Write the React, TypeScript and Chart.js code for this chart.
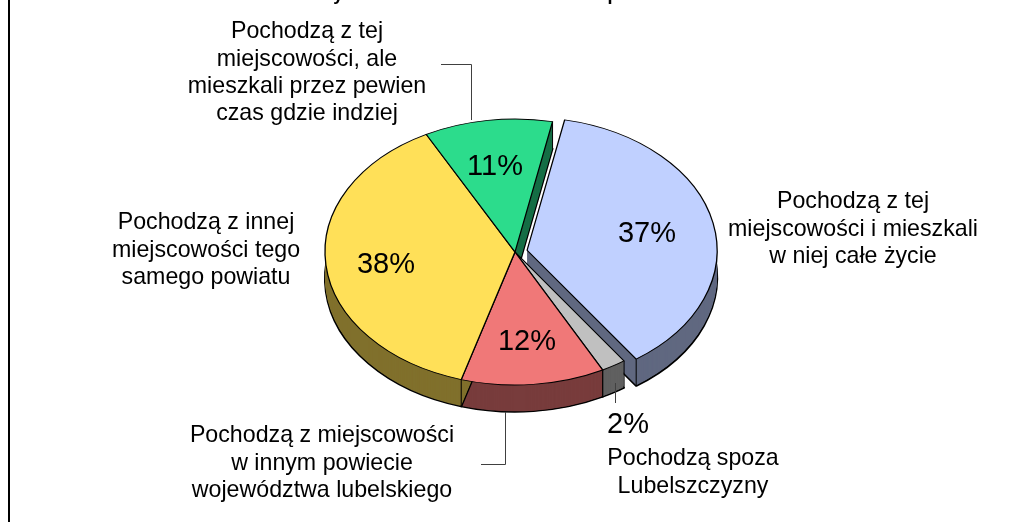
import React, { useEffect, useRef } from "react";
import { Chart, registerables } from "chart.js";

Chart.register(...registerables);

const categories = [
  "Pochodzą z tej miejscowości i mieszkali w niej całe życie",
  "Pochodzą spoza Lubelszczyzny",
  "Pochodzą z miejscowości w innym powiecie województwa lubelskiego",
  "Pochodzą z innej miejscowości tego samego powiatu",
  "Pochodzą z tej miejscowości, ale mieszkali przez pewien czas gdzie indziej",
];
const shares = [37.1, 2.1, 12.2, 37.7, 10.9];
const topColors = ["#C0D0FF", "#C0C0C0", "#F07878", "#FFE058", "#2CDC8C"];
const sideColors = ["#606880", "#606060", "#783C3C", "#80702C", "#166E46"];
const explodeFractions = [0.065, 0, 0, 0, 0];

const titleText = "Wykres 1. Pochodzenie rodzin respondentów";
const labelFont = '23.2px "Liberation Sans", Arial, sans-serif';
const pctFont = '29px "Liberation Sans", Arial, sans-serif';
const titleFont = 'bold 18px "Liberation Sans", Arial, sans-serif';

const textBlocks: { x: number; y: number; lines: string[]; font: string }[] = [
  { x: 307, y: 32, lines: ["Pochodzą z tej", "miejscowości, ale", "mieszkali przez pewien", "czas gdzie indziej"], font: labelFont },
  { x: 853, y: 202, lines: ["Pochodzą z tej", "miejscowości i mieszkali", "w niej całe życie"], font: labelFont },
  { x: 206, y: 223, lines: ["Pochodzą z innej", "miejscowości tego", "samego powiatu"], font: labelFont },
  { x: 322, y: 436, lines: ["Pochodzą z miejscowości", "w innym powiecie", "województwa lubelskiego"], font: labelFont },
  { x: 693, y: 459, lines: ["Pochodzą spoza", "Lubelszczyzny"], font: labelFont },
  { x: 647, y: 234, lines: ["37%"], font: pctFont },
  { x: 628, y: 425, lines: ["2%"], font: pctFont },
  { x: 527, y: 342, lines: ["12%"], font: pctFont },
  { x: 386, y: 265, lines: ["38%"], font: pctFont },
  { x: 495, y: 167, lines: ["11%"], font: pctFont },
];
const leaders: number[][][] = [
  [[441, 64.5], [471.5, 64.5], [471.5, 120]],
  [[505.5, 412], [505.5, 464.5], [481, 464.5]],
  [[615.5, 383], [615.5, 403]],
];

const SQUASH = 0.7;
const DEPTH = 27;

const pie3d = {
  id: "pie3d",
  beforeDatasetsDraw(chart: any) {
    const ctx: CanvasRenderingContext2D = chart.ctx;
    const arcs = chart.getDatasetMeta(0).data;
    const base = (bg: string, bc: string, bw: number) => ({
      backgroundColor: bg,
      borderColor: bc,
      borderWidth: bw,
      borderAlign: "center",
      borderJoinStyle: "round",
      borderRadius: 0,
      borderDash: [],
      borderDashOffset: 0,
      offset: 0,
      spacing: 0,
      circular: true,
    });
    const place = (arc: any, i: number, dy: number) => {
      const mid = (arc.startAngle + arc.endAngle) / 2;
      const e = explodeFractions[i] * arc.outerRadius;
      ctx.translate(arc.x, arc.y + dy);
      ctx.scale(1, SQUASH);
      ctx.translate(-arc.x + Math.cos(mid) * e, -arc.y + Math.sin(mid) * e);
    };
    const paint = (arc: any, i: number, dy: number, opts: any) => {
      const saved = arc.options;
      arc.options = opts;
      ctx.save();
      place(arc, i, dy);
      arc.draw(ctx);
      ctx.restore();
      arc.options = saved;
    };
    const drawSide = (arc: any, i: number) => {
      paint(arc, i, DEPTH, base(sideColors[i], "#000000", 2));
      for (let d = DEPTH - 1; d > 0; d--) paint(arc, i, d, base(sideColors[i], sideColors[i], 0));
      const mid = (arc.startAngle + arc.endAngle) / 2;
      const e = explodeFractions[i] * arc.outerRadius;
      [arc.startAngle, arc.endAngle].forEach((a: number) => {
        const x = arc.x + Math.cos(a) * arc.outerRadius + Math.cos(mid) * e;
        const y = arc.y + (Math.sin(a) * arc.outerRadius + Math.sin(mid) * e) * SQUASH;
        ctx.save();
        ctx.strokeStyle = "#000000";
        ctx.lineWidth = 1;
        ctx.beginPath();
        ctx.moveTo(x, y);
        ctx.lineTo(x, y + DEPTH);
        ctx.stroke();
        ctx.restore();
      });
    };
    const drawTop = (arc: any, i: number) => paint(arc, i, 0, base(topColors[i], "#000000", 1.3));

    const exploded = arcs.map((_: any, i: number) => i).filter((i: number) => explodeFractions[i] > 0);
    const rest = arcs.map((_: any, i: number) => i).filter((i: number) => explodeFractions[i] === 0);
    exploded.forEach((i: number) => {
      drawSide(arcs[i], i);
      drawTop(arcs[i], i);
    });
    rest.forEach((i: number) => drawSide(arcs[i], i));
    rest.forEach((i: number) => drawTop(arcs[i], i));
    return false;
  },
  afterDraw(chart: any) {
    const ctx: CanvasRenderingContext2D = chart.ctx;
    ctx.save();
    ctx.strokeStyle = "#404040";
    ctx.lineWidth = 1;
    leaders.forEach((pts) => {
      ctx.beginPath();
      pts.forEach((p, k) => (k ? ctx.lineTo(p[0], p[1]) : ctx.moveTo(p[0], p[1])));
      ctx.stroke();
    });
    ctx.fillStyle = "#000000";
    ctx.textAlign = "center";
    ctx.textBaseline = "alphabetic";
    ctx.font = titleFont;
    ctx.fillText(titleText, 510, 0);
    ctx.textBaseline = "middle";
    textBlocks.forEach((b) => {
      ctx.font = b.font;
      b.lines.forEach((line, k) => ctx.fillText(line, b.x, b.y + k * 27.3));
    });
    ctx.restore();
  },
};

export default function App() {
  const ref = useRef<HTMLCanvasElement>(null);
  useEffect(() => {
    document.body.style.margin = "0";
    const chart = new Chart(ref.current as HTMLCanvasElement, {
      type: "pie",
      data: {
        labels: categories,
        datasets: [{ data: shares, backgroundColor: topColors, borderColor: "#000000", borderWidth: 1 }],
      },
      options: {
        animation: false,
        responsive: false,
        rotation: 11.4,
        layout: { padding: { left: 324.5, right: 316.5, top: 61.5, bottom: 79.5 } },
        plugins: { legend: { display: false }, title: { display: false }, tooltip: { enabled: false } },
      },
      plugins: [pie3d],
    } as any);
    return () => chart.destroy();
  }, []);
  return (
    <div style={{ position: "fixed", left: 0, top: 0, width: 1022, height: 522, overflow: "hidden", background: "#fff" }}>
      <canvas ref={ref} width={1022} height={522} style={{ display: "block", width: 1022, height: 522 }} />
      <div style={{ position: "absolute", left: 8, top: 0, width: 2, height: 522, background: "#000" }} />
    </div>
  );
}
